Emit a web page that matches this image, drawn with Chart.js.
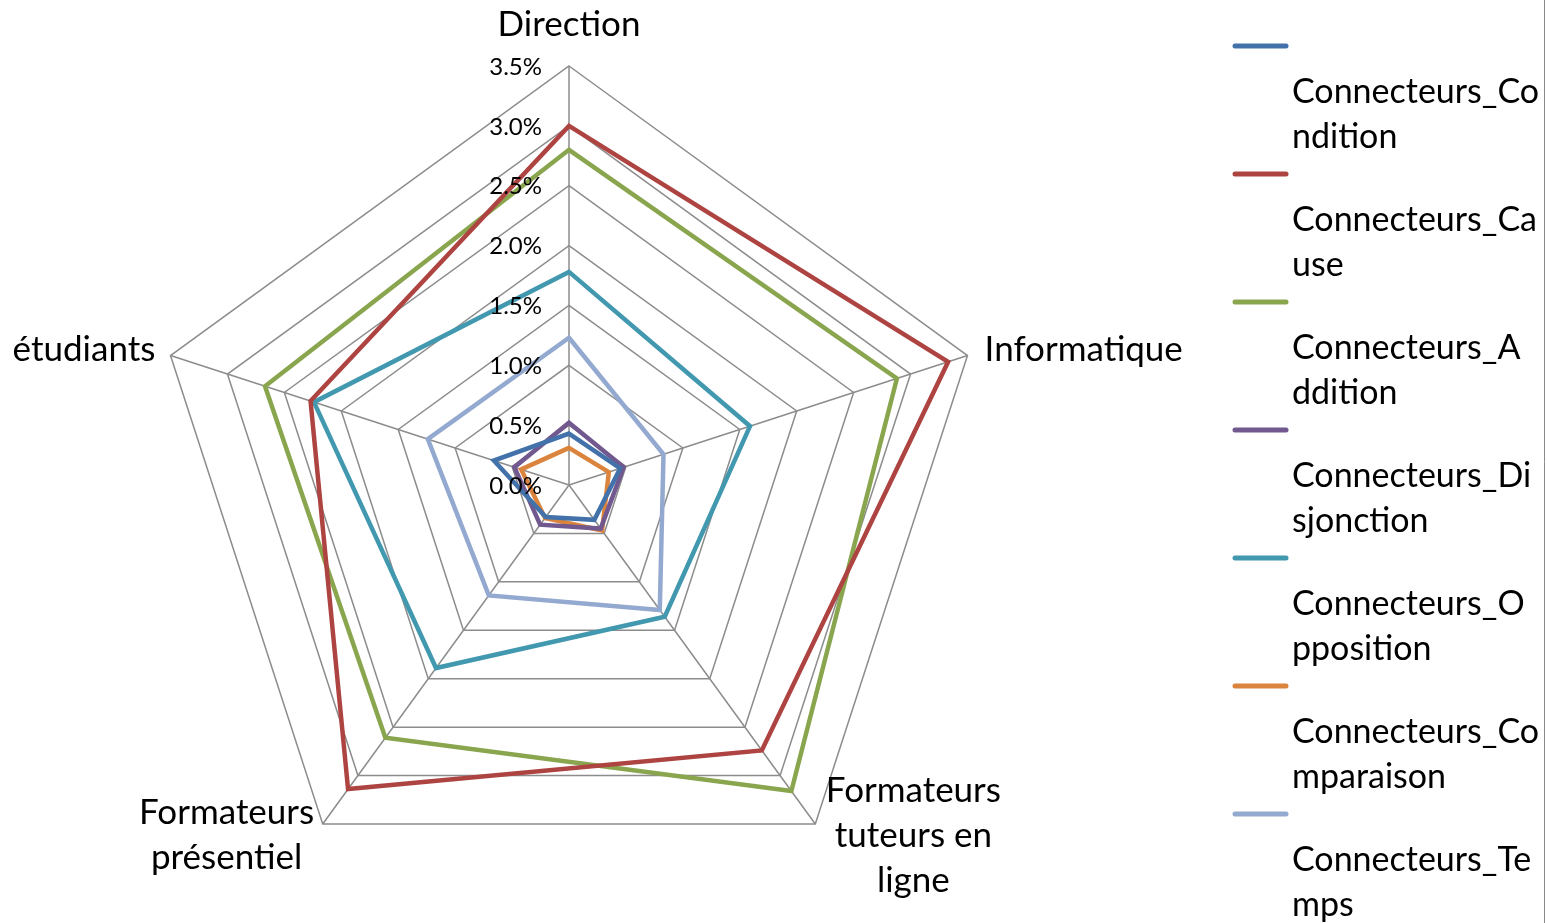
<!DOCTYPE html>
<html>
<head>
<meta charset="utf-8">
<script src="https://cdn.jsdelivr.net/npm/chart.js@4/dist/chart.umd.min.js"></script>
<style>
  html, body { margin: 0; padding: 0; background: #ffffff; }
  #wrap { width: 1548px; height: 923px; position: relative; }
</style>
</head>
<body>
<div id="wrap"><canvas id="c" width="1548" height="923"></canvas></div>
<script>
// ---- data ----
const categories = ['Direction', 'Informatique', ['Formateurs', 'tuteurs en', 'ligne'], ['Formateurs', 'présentiel'], 'étudiants'];
const seriesNames = ['Connecteurs_Condition', 'Connecteurs_Cause', 'Connecteurs_Addition', 'Connecteurs_Disjonction', 'Connecteurs_Opposition', 'Connecteurs_Comparaison', 'Connecteurs_Temps'];
// number of characters on the first legend line (the legend wraps inside each name)
const legendBreaks = [14, 14, 13, 14, 13, 14, 14];
const condition   = [0.43, 0.45, 0.36, 0.33, 0.66];
const cause       = [3.00, 3.33, 2.74, 3.14, 2.27];
const addition    = [2.80, 2.88, 3.16, 2.61, 2.67];
const disjonction = [0.52, 0.48, 0.45, 0.41, 0.48];
const opposition  = [1.78, 1.59, 1.36, 1.89, 2.24];
const comparaison = [0.31, 0.35, 0.47, 0.34, 0.42];
const temps       = [1.23, 0.83, 1.29, 1.14, 1.24];
const tickValues  = [0, 0.5, 1.0, 1.5, 2.0, 2.5, 3.0, 3.5];
const tickLabels  = ['0.0%', '0.5%', '1.0%', '1.5%', '2.0%', '2.5%', '3.0%', '3.5%'];

const seriesValues = [condition, cause, addition, disjonction, opposition, comparaison, temps];
const seriesColors = ['#4372AA', '#AE4441', '#89A54E', '#71588F', '#4198AF', '#DB843D', '#93A9CF'];

const FONT = 'Lato, "Open Sans", sans-serif';

const decorPlugin = {
  id: 'decor',
  afterDraw(chart) {
    const ctx = chart.ctx;
    const s = chart.scales.r;
    ctx.save();
    ctx.fillStyle = '#000';

    // tick labels (left of vertical axis)
    ctx.font = '24px ' + FONT;
    ctx.textAlign = 'right';
    ctx.textBaseline = 'middle';
    tickValues.forEach((v, i) => {
      const y = s.yCenter - s.getDistanceFromCenterForValue(v);
      ctx.fillText(tickLabels[i], s.xCenter - 27, y + 1);
    });

    // point labels
    ctx.font = '35px ' + FONT;
    const lh = 45;
    chart.data.labels.forEach((lab, i) => {
      const lines = Array.isArray(lab) ? lab : [lab];
      const pad = 18;
      const p = s.getPointPosition(i, s.drawingArea + pad);
      const dx = p.x - s.xCenter;
      const widths = lines.map(l => ctx.measureText(l).width);
      const bw = Math.max(...widths);
      let cx;
      if (Math.abs(dx) < 1) cx = p.x;
      else if (dx > 0) cx = p.x + bw / 2;
      else cx = p.x - bw / 2 + 2;
      const bh = lines.length * lh;
      let top;
      if (Math.abs(dx) < 1 && p.y < s.yCenter) top = p.y - bh - 1;
      else top = p.y - bh / 2;
      if (p.y > s.yCenter) top -= 3;
      ctx.textAlign = 'center';
      ctx.textBaseline = 'middle';
      lines.forEach((l, k) => ctx.fillText(l, cx, top + lh * k + lh / 2));
    });

    // legend
    const lx0 = 1233, lx1 = 1288, tx = 1292, firstY = 46, step = 128;
    ctx.font = '34px ' + FONT;
    ctx.textAlign = 'left';
    ctx.textBaseline = 'middle';
    chart.data.datasets.forEach((ds, i) => {
      const y = firstY + i * step;
      ctx.strokeStyle = ds.borderColor;
      ctx.lineWidth = 5;
      ctx.lineCap = 'round';
      ctx.beginPath();
      ctx.moveTo(lx0 + 2, y);
      ctx.lineTo(lx1 - 2, y);
      ctx.stroke();
      const n = legendBreaks[i];
      const lines = [ds.label.slice(0, n), ds.label.slice(n)];
      ctx.fillStyle = '#000';
      lines.forEach((l, k) => ctx.fillText(l, tx, y + 46 + k * 45));
    });

    // right border line
    ctx.strokeStyle = '#8a8a8a';
    ctx.lineWidth = 1;
    ctx.lineCap = 'butt';
    ctx.beginPath();
    ctx.moveTo(1544.5, 0);
    ctx.lineTo(1544.5, 923);
    ctx.stroke();
    ctx.restore();
  }
};

new Chart(document.getElementById('c'), {
  type: 'radar',
  data: {
    labels: categories,
    datasets: seriesNames.map((name, i) => ({
      label: name,
      data: seriesValues[i],
      borderColor: seriesColors[i],
      backgroundColor: seriesColors[i],
      borderWidth: 4.5,
      fill: false,
      tension: 0,
      pointRadius: 0,
      pointHoverRadius: 0,
      borderJoinStyle: 'miter'
    }))
  },
  options: {
    responsive: false,
    animation: false,
    devicePixelRatio: 1,
    layout: { padding: { left: 0, right: 410, top: 66, bottom: 19 } },
    plugins: { legend: { display: false }, tooltip: { enabled: false } },
    scales: {
      r: {
        min: 0,
        max: 3.5,
        startAngle: 0,
        ticks: { display: false, stepSize: 0.5 },
        pointLabels: { display: false },
        grid: { color: '#8c8c8c', lineWidth: 1.5 },
        angleLines: { color: '#8c8c8c', lineWidth: 1.5 }
      }
    }
  },
  plugins: [decorPlugin]
});
</script>
</body>
</html>
